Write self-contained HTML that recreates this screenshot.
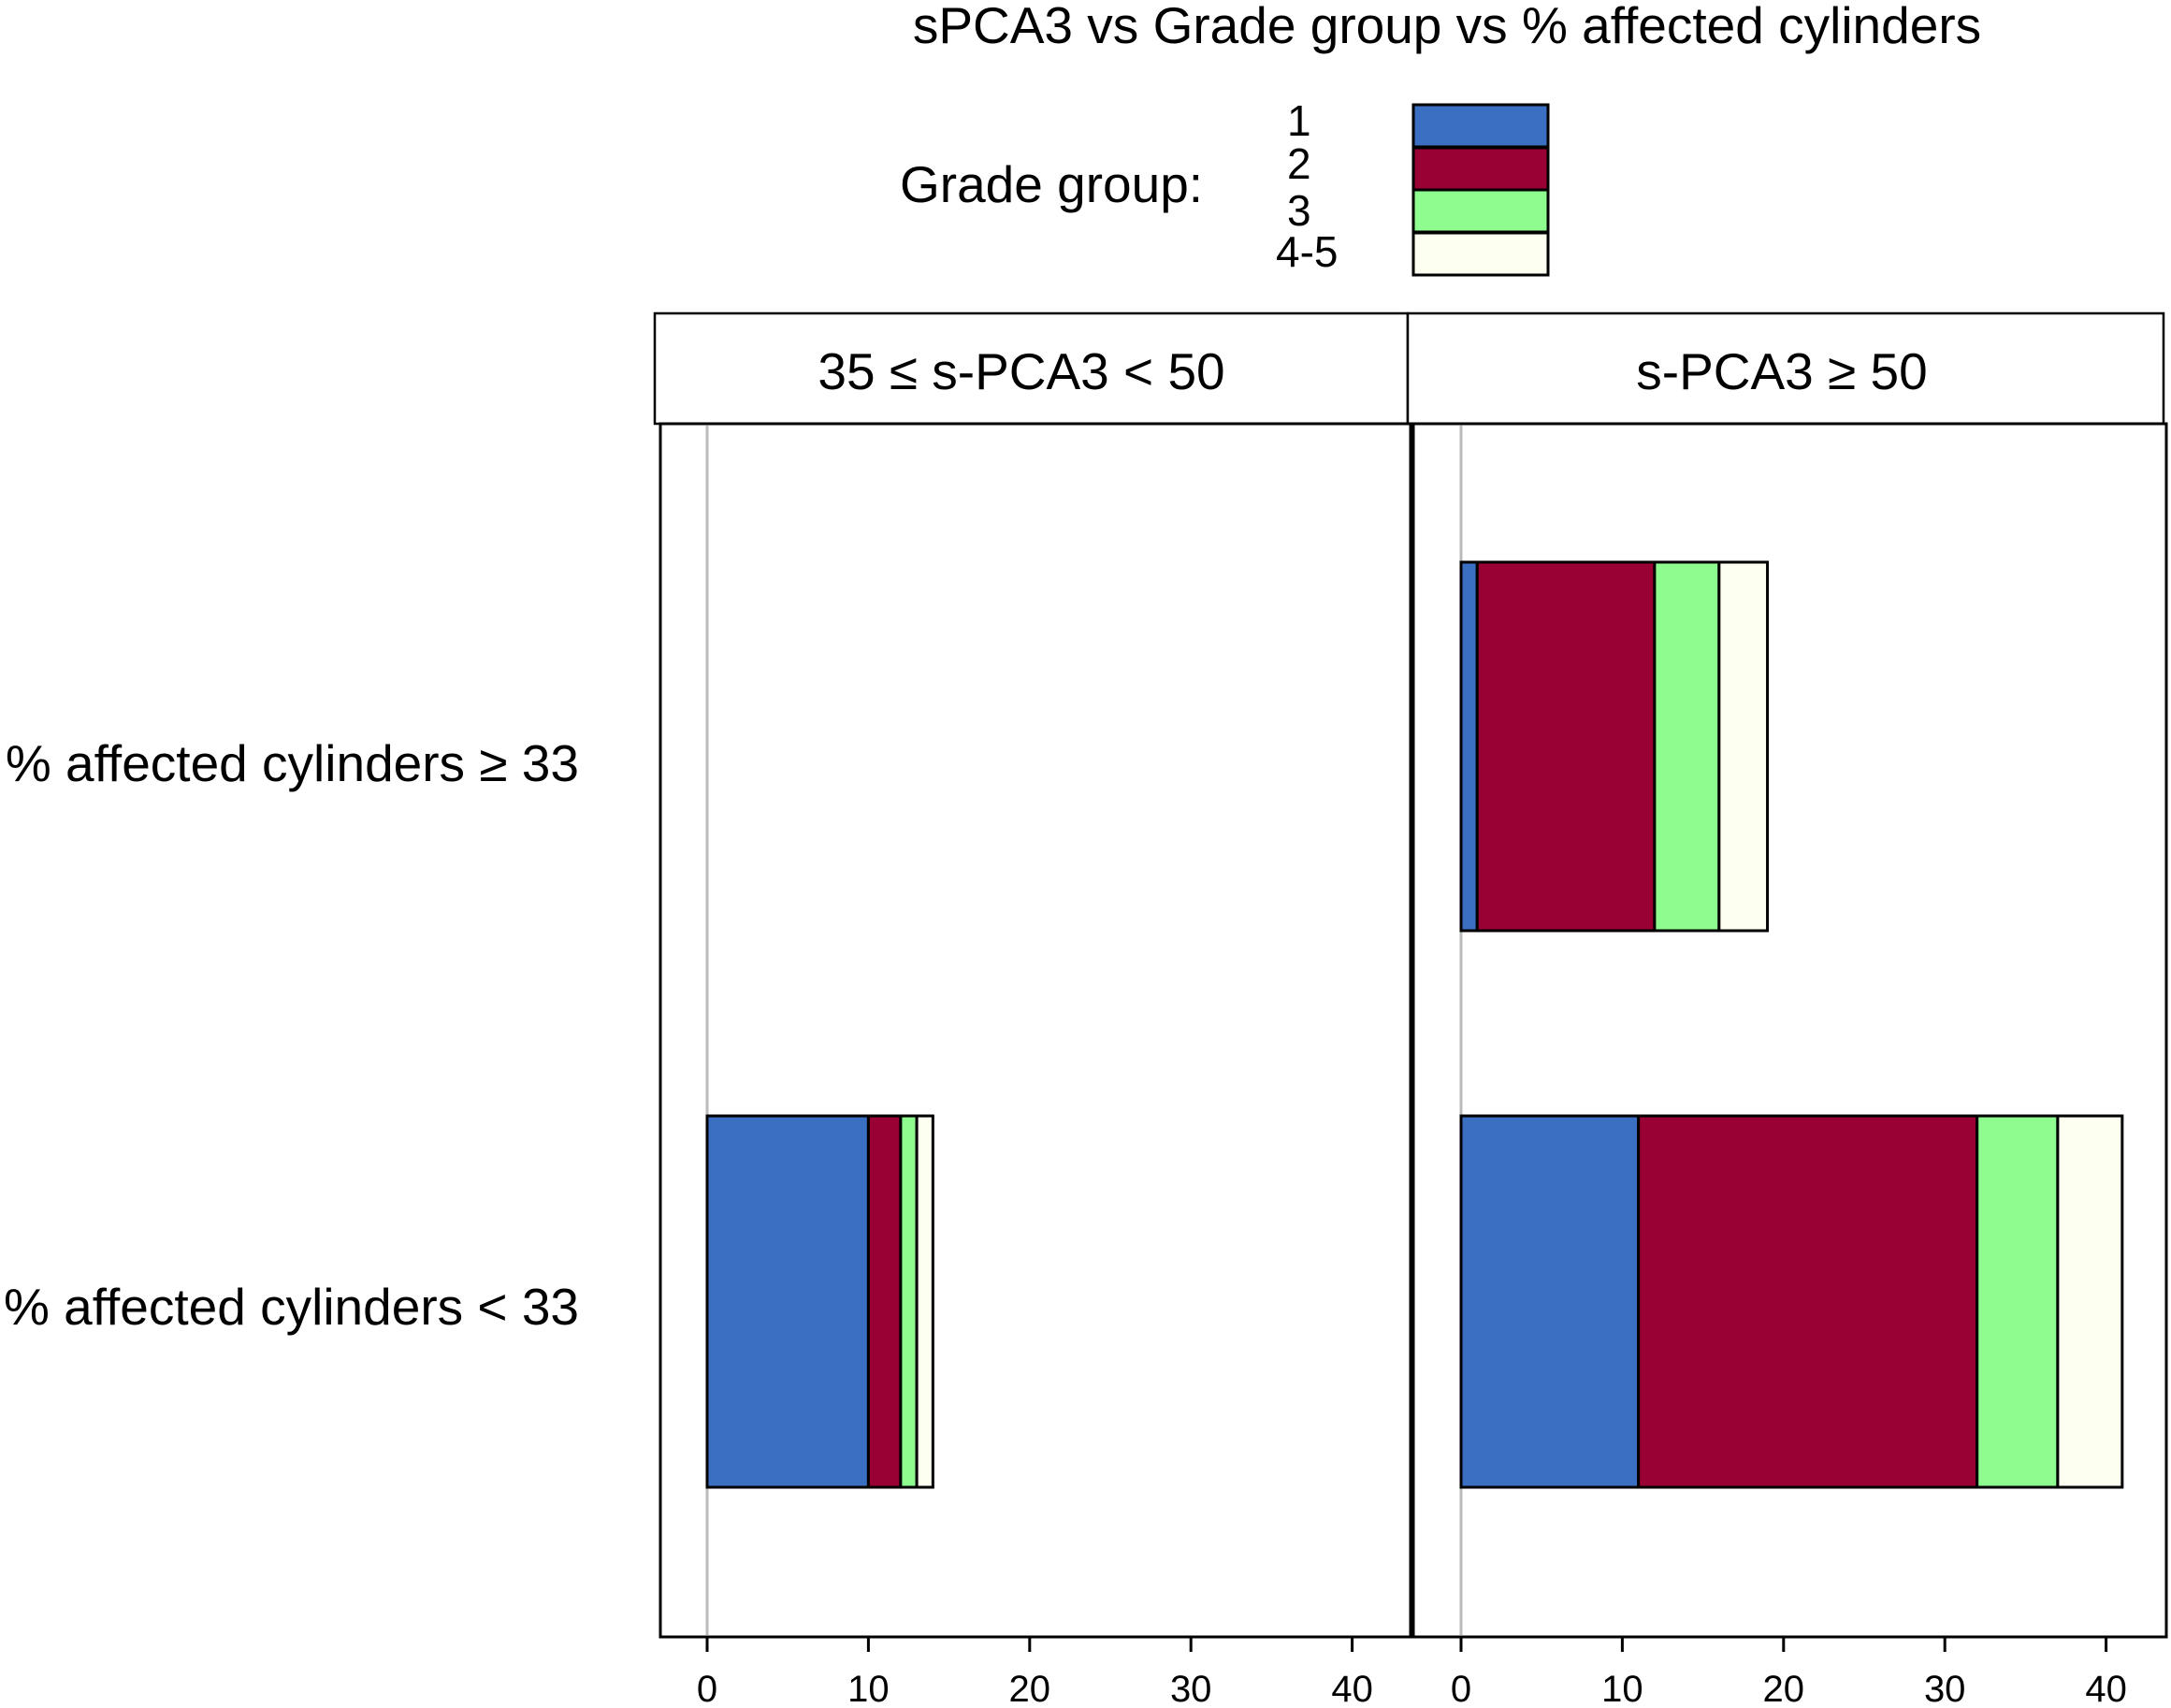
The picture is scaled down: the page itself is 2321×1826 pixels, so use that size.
<!DOCTYPE html>
<html><head><meta charset="utf-8"><style>
body{margin:0;background:#fff;}
svg{display:block;font-family:"Liberation Sans",sans-serif;}
</style></head><body>
<svg id="chart" width="2321" height="1826" viewBox="0 0 2321 1826">
<text x="1547" y="46" font-size="55" text-anchor="middle">sPCA3 vs Grade group vs % affected cylinders</text>
<g>
<text x="962" y="216" font-size="55">Grade group:</text>
</g>
<rect x="700" y="335" width="805" height="118" fill="#fff" stroke="#000" stroke-width="2.5"/>
<rect x="1505" y="335" width="808" height="118" fill="#fff" stroke="#000" stroke-width="2.5"/>
<text x="1092" y="416" font-size="55" text-anchor="middle">35 ≤ s-PCA3 &lt; 50</text>
<text x="1905" y="416" font-size="55" text-anchor="middle">s-PCA3 ≥ 50</text>
<rect x="706" y="453" width="802" height="1297" fill="none" stroke="#000" stroke-width="3"/>
<rect x="1511" y="453" width="805" height="1297" fill="none" stroke="#000" stroke-width="3"/>
<text x="619" y="835" font-size="55" text-anchor="end">% affected cylinders ≥ 33</text>
<text x="619" y="1416" font-size="55" text-anchor="end">% affected cylinders &lt; 33</text>
<g id="marks"></g>
</svg>
<script>
const grades = ["1","2","3","4-5"];
const colors = ["#3b6fc2","#990033","#8efc8e","#fdfff0"];
const panels = ["35 ≤ s-PCA3 < 50","s-PCA3 ≥ 50"];
const rows = ["% affected cylinders ≥ 33","% affected cylinders < 33"];
const leftHigh = [0,0,0,0];
const leftLow = [10,2,1,1];
const rightHigh = [1,11,4,3];
const rightLow = [11,21,5,4];
const ticks = [0,10,20,30,40];

const NS="http://www.w3.org/2000/svg";
const svg=document.getElementById('chart');
const g=document.getElementById('marks');
const zeros=[756,1562];
const unit=17.24;
function xs(p,v){return zeros[p]+v*unit;}
const rowTop=[601,1193], rowH=[394,397];
function mk(t,a){const e=document.createElementNS(NS,t);for(const k in a)e.setAttribute(k,a[k]);return e;}

const legY=[112,158,203,249];
const legLblY=[145,191,241,285];
grades.forEach((gname,i)=>{
  const r=mk('rect',{x:1511,y:legY[i],width:144,height:45,fill:colors[i],stroke:'#000','stroke-width':3});
  
  
  svg.appendChild(r);
  const t=mk('text',{x:i==3?1364:1376,y:legLblY[i],'font-size':46});
  t.textContent=gname;
  
  
  svg.appendChild(t);
});

[0,1].forEach(p=>{
  const z=mk('line',{x1:xs(p,0),x2:xs(p,0),y1:455,y2:1748,stroke:'#bbb','stroke-width':3});
  
  
  g.appendChild(z);
  ticks.forEach(tv=>{
    const l=mk('line',{x1:xs(p,tv),x2:xs(p,tv),y1:1750,y2:1766,stroke:'#000','stroke-width':3});
    
    
    g.appendChild(l);
    const t=mk('text',{x:xs(p,tv),y:1819,'font-size':40,'text-anchor':'middle'});
    t.textContent=tv;
    
    
    g.appendChild(t);
  });
});

const data=[[leftHigh,leftLow],[rightHigh,rightLow]];
data.forEach((pd,p)=>{
  pd.forEach((vals,r)=>{
    let acc=0;
    vals.forEach((v,i)=>{
      if(v<=0){return;}
      const b=mk('rect',{x:xs(p,acc),y:rowTop[r],width:v*unit,height:rowH[r],fill:colors[i],stroke:'#000','stroke-width':3});
      
      
      g.appendChild(b);
      acc+=v;
    });
  });
});
</script>
</body></html>
